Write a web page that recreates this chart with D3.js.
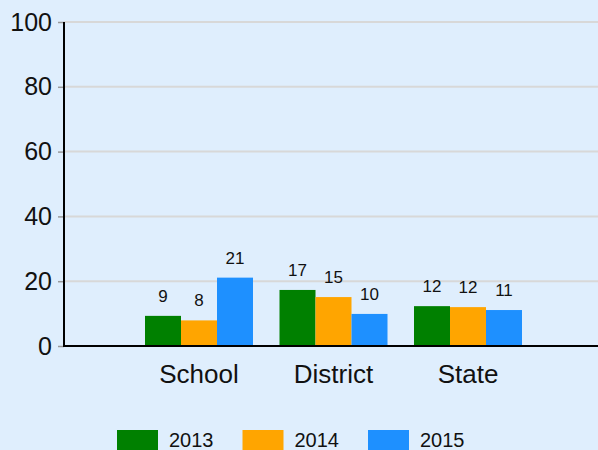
<!DOCTYPE html>
<html>
<head>
<meta charset="utf-8">
<script src="https://cdn.jsdelivr.net/npm/d3@7"></script>
<style>
  body { margin: 0; background: #dfeefd; }
  svg { display: block; font-family: Arial, "Liberation Sans", sans-serif; }
</style>
</head>
<body>
<div class="chart"></div>
<script>
const width = 598;
const height = 450;

const categories = ["School", "District", "State"];
const years = ["2013", "2014", "2015"];
const colors = ["#008000", "#ffa500", "#1e90ff"];
// values per category, in order of years
const values2013 = [9.3, 17.3, 12.3];
const values2014 = [7.9, 15.1, 12.0];
const values2015 = [21.1, 9.9, 11.1];
const yTicks = [0, 20, 40, 60, 80, 100];

const series = [values2013, values2014, values2015];

const plotLeft = 64;
const plotRight = 598;
const plotTop = 22;
const plotBottom = 346;

const svg = d3.select(".chart").append("svg")
    .attr("width", width)
    .attr("height", height);

svg.append("rect")
    .attr("width", width)
    .attr("height", height)
    .attr("fill", "#dfeefd");

const y = d3.scaleLinear().domain([0, 100]).range([plotBottom, plotTop]);

const x = d3.scaleBand()
    .domain(categories)
    .range([131.75, 535.25])
    .paddingInner(0.197)
    .paddingOuter(0.0985);

const xSub = d3.scaleBand()
    .domain(years)
    .range([0, x.bandwidth()]);

// gridlines
svg.append("g")
    .selectAll("line")
    .data(yTicks.filter(t => t > 0))
    .join("line")
    .attr("x1", plotLeft)
    .attr("x2", plotRight)
    .attr("y1", d => y(d))
    .attr("y2", d => y(d))
    .attr("stroke", "#d8d8d8")
    .attr("stroke-width", 2);

// y axis
const yAxis = svg.append("g")
    .attr("transform", `translate(${plotLeft},0)`)
    .call(d3.axisLeft(y).tickValues(yTicks).tickSize(6).tickPadding(6));
yAxis.select(".domain").remove();
yAxis.selectAll(".tick line").attr("stroke", "#999").attr("stroke-width", 1.5);
yAxis.selectAll(".tick text")
    .attr("font-size", 25)
    .attr("font-family", "Arial, 'Liberation Sans', sans-serif")
    .attr("fill", "#111");

// bars
const groups = svg.append("g")
    .selectAll("g")
    .data(categories)
    .join("g")
    .attr("transform", d => `translate(${x(d)},0)`);

groups.selectAll("rect")
    .data((c, ci) => years.map((yr, i) => ({ year: yr, value: series[i][ci], color: colors[i] })))
    .join("rect")
    .attr("x", d => xSub(d.year))
    .attr("y", d => y(d.value))
    .attr("width", xSub.bandwidth())
    .attr("height", d => y(0) - y(d.value))
    .attr("fill", d => d.color);

groups.selectAll("text")
    .data((c, ci) => years.map((yr, i) => ({ year: yr, value: series[i][ci] })))
    .join("text")
    .attr("x", d => xSub(d.year) + xSub.bandwidth() / 2)
    .attr("y", d => y(d.value) - 14)
    .attr("text-anchor", "middle")
    .attr("font-size", 17)
    .attr("fill", "#111")
    .text(d => Math.round(d.value));

// axis lines
svg.append("line")
    .attr("x1", plotLeft).attr("x2", plotLeft)
    .attr("y1", plotTop).attr("y2", plotBottom + 1)
    .attr("stroke", "#000").attr("stroke-width", 2);
svg.append("line")
    .attr("x1", plotLeft).attr("x2", plotRight)
    .attr("y1", plotBottom).attr("y2", plotBottom)
    .attr("stroke", "#000").attr("stroke-width", 2);

// category labels
svg.append("g")
    .selectAll("text")
    .data(categories)
    .join("text")
    .attr("x", d => x(d) + x.bandwidth() / 2)
    .attr("y", 383)
    .attr("text-anchor", "middle")
    .attr("font-size", 26)
    .attr("fill", "#111")
    .text(d => d);

// legend
const legend = svg.append("g")
    .selectAll("g")
    .data(years)
    .join("g")
    .attr("transform", (d, i) => `translate(${117 + i * 125.5},430)`);

legend.append("rect")
    .attr("width", 41)
    .attr("height", 20)
    .attr("fill", (d, i) => colors[i]);

legend.append("text")
    .attr("x", 52)
    .attr("y", 17)
    .attr("font-size", 20)
    .attr("fill", "#111")
    .text(d => d);
</script>
</body>
</html>
